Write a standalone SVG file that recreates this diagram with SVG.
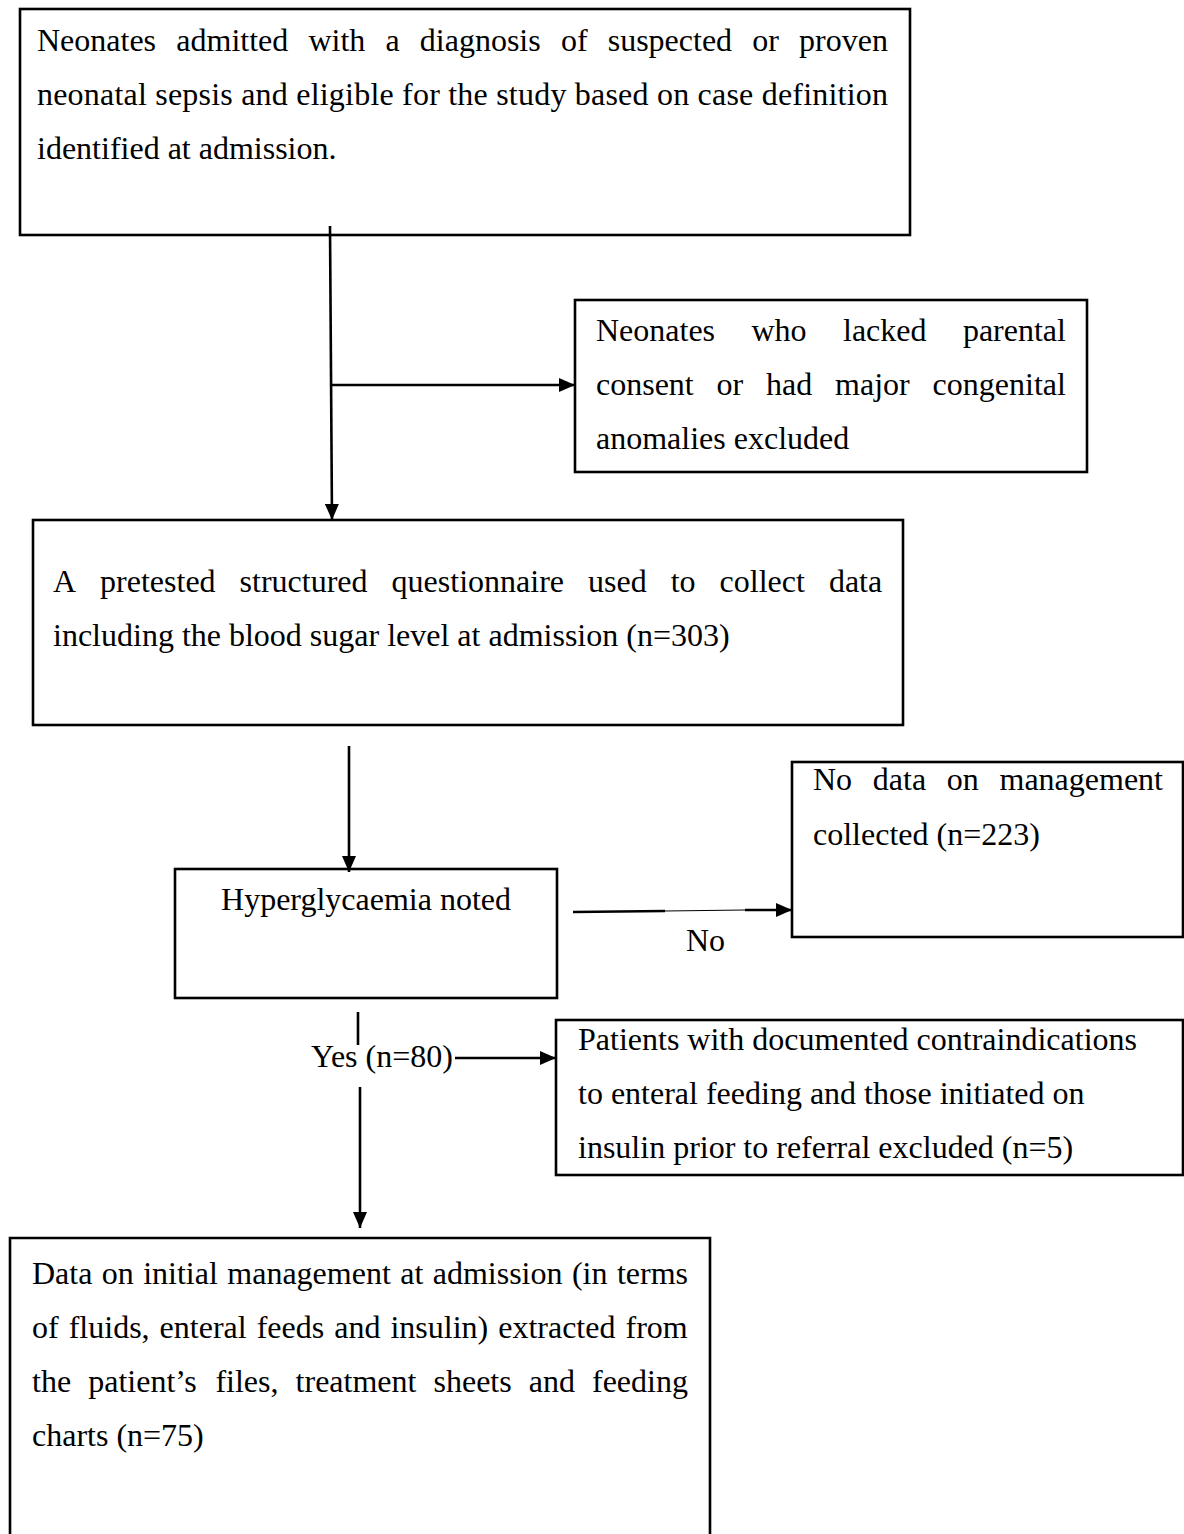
<svg xmlns="http://www.w3.org/2000/svg" width="1184" height="1534" viewBox="0 0 1184 1534">
<style>
.box{fill:#fff;stroke:#000;stroke-width:2.6}
.ln{fill:none;stroke:#000;stroke-width:2.6}
.thin{fill:none;stroke:#000;stroke-width:1.2}
text{font-family:"Liberation Serif","Times New Roman",serif;font-size:32px;fill:#000}
</style>
<defs>
<marker id="arr" markerUnits="userSpaceOnUse" markerWidth="16" markerHeight="14" refX="16" refY="7" orient="auto">
<path d="M0,0 L16,7 L0,14 z" fill="#000"/>
</marker>
</defs>
<rect width="1184" height="1534" fill="#fff"/>

<g id="n1">
<rect class="box" x="20" y="9" width="890" height="226"/>
<text y="51"><tspan x="37">Neonates</tspan><tspan x="176.3">admitted</tspan><tspan x="308.4">with</tspan><tspan x="385.5">a</tspan><tspan x="419.8">diagnosis</tspan><tspan x="560.9">of</tspan><tspan x="607.7">suspected</tspan><tspan x="752.3">or</tspan><tspan x="799.1">proven</tspan></text>
<text x="37" y="105" textLength="851" lengthAdjust="spacing">neonatal sepsis and eligible for the study based on case definition</text>
<text x="37" y="159">identified at admission.</text>
</g>

<g id="n2">
<rect class="box" x="575" y="300" width="512" height="172"/>
<text y="341"><tspan x="596">Neonates</tspan><tspan x="751.5">who</tspan><tspan x="843">lacked</tspan><tspan x="962.9">parental</tspan></text>
<text y="395"><tspan x="596">consent</tspan><tspan x="716.6">or</tspan><tspan x="766.1">had</tspan><tspan x="835.1">major</tspan><tspan x="932.6">congenital</tspan></text>
<text x="596" y="449">anomalies excluded</text>
</g>

<g id="n3">
<rect class="box" x="33" y="520" width="870" height="205"/>
<text y="592"><tspan x="53">A</tspan><tspan x="100.1">pretested</tspan><tspan x="239.6">structured</tspan><tspan x="391.6">questionnaire</tspan><tspan x="588">used</tspan><tspan x="670.7">to</tspan><tspan x="719.6">collect</tspan><tspan x="828.9">data</tspan></text>
<text x="53" y="646">including the blood sugar level at admission (n=303)</text>
</g>

<g id="n4">
<rect class="box" x="175" y="869" width="382" height="129"/>
<text x="366" y="910" text-anchor="middle">Hyperglycaemia noted</text>
</g>

<g id="n5">
<rect class="box" x="792" y="762" width="391" height="175"/>
<text y="790"><tspan x="813">No</tspan><tspan x="872.8">data</tspan><tspan x="946.8">on</tspan><tspan x="999.5">management</tspan></text>
<text x="813" y="845">collected (n=223)</text>
</g>

<g id="n6">
<rect class="box" x="556" y="1020" width="627" height="155"/>
<text x="578" y="1050">Patients with documented contraindications</text>
<text x="578" y="1104">to enteral feeding and those initiated on</text>
<text x="578" y="1158">insulin prior to referral excluded (n=5)</text>
</g>

<g id="n7">
<path class="box" d="M10,1545 L10,1238 L710,1238 L710,1545"/>
<text y="1284"><tspan x="32">Data</tspan><tspan x="101.8">on</tspan><tspan x="143.2">initial</tspan><tspan x="227.3">management</tspan><tspan x="400.2">at</tspan><tspan x="432.7">admission</tspan><tspan x="571.9">(in</tspan><tspan x="616.9">terms</tspan></text>
<text y="1338"><tspan x="32">of</tspan><tspan x="68.7">fluids,</tspan><tspan x="159.6">enteral</tspan><tspan x="256.7">feeds</tspan><tspan x="334.2">and</tspan><tspan x="390.4">insulin)</tspan><tspan x="498.2">extracted</tspan><tspan x="625.5">from</tspan></text>
<text y="1392"><tspan x="32">the</tspan><tspan x="88.2">patient’s</tspan><tspan x="215.4">files,</tspan><tspan x="295.6">treatment</tspan><tspan x="433.5">sheets</tspan><tspan x="528.8">and</tspan><tspan x="592">feeding</tspan></text>
<text x="32" y="1446">charts (n=75)</text>
</g>

<g id="labels">
<text x="686" y="951">No</text>
<text x="311" y="1067">Yes (n=80)</text>
</g>

<g id="connectors">
<line class="ln" x1="330" y1="226" x2="332" y2="520" marker-end="url(#arr)"/>
<line class="ln" x1="330" y1="385" x2="575" y2="385" marker-end="url(#arr)"/>
<line class="ln" x1="349" y1="746" x2="349" y2="872" marker-end="url(#arr)"/>
<line class="ln" x1="573" y1="912" x2="665" y2="911"/>
<line class="thin" x1="665" y1="911" x2="745" y2="910"/>
<line class="ln" x1="745" y1="910" x2="792" y2="910" marker-end="url(#arr)"/>
<line class="ln" x1="358" y1="1012" x2="358" y2="1045"/>
<line class="ln" x1="455" y1="1058" x2="556" y2="1058" marker-end="url(#arr)"/>
<line class="ln" x1="360" y1="1087" x2="360" y2="1228" marker-end="url(#arr)"/>
</g>
</svg>
